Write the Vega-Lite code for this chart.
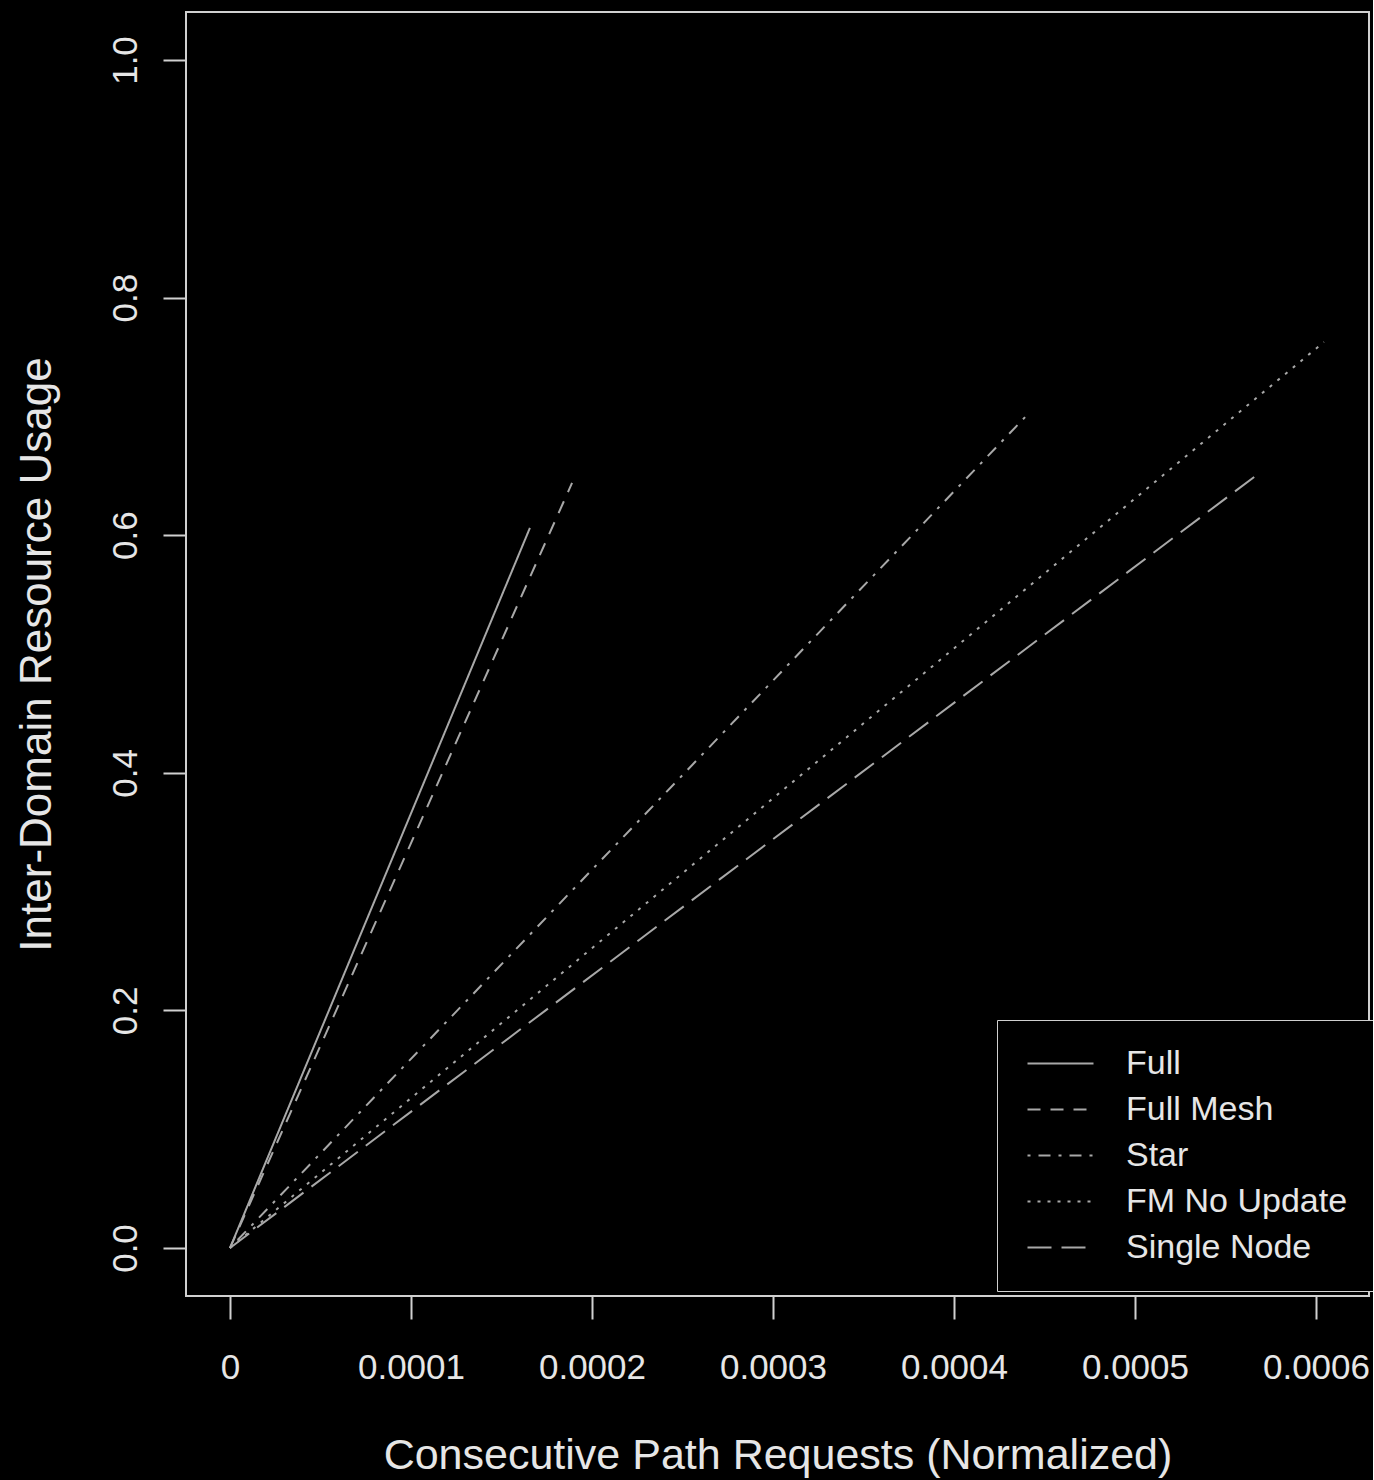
{
  "$schema": "https://vega.github.io/schema/vega-lite/v6.json",
  "width": 1183,
  "height": 1284,
  "autosize": {"type": "none"},
  "padding": {"left": 186, "top": 12, "right": 4, "bottom": 184},
  "background": "black",
  "config": {
    "view": {"stroke": "#d0d0d0", "strokeWidth": 2, "fill": "black"},
    "font": "Liberation Sans",
    "axis": {
      "grid": false,
      "domain": false,
      "tickColor": "#d0d0d0",
      "tickWidth": 2,
      "tickSize": 23,
      "labelColor": "#e6e6e6",
      "labelFont": "Liberation Sans",
      "labelFontSize": 35,
      "labelFontWeight": "normal",
      "titleColor": "#e6e6e6",
      "titleFont": "Liberation Sans",
      "titleFontWeight": "normal"
    }
  },
  "data": {
    "values": [
      {"series": "Full", "x": 0, "y": 0},
      {"series": "Full", "x": 0.0001657, "y": 0.6061},
      {"series": "Full Mesh", "x": 0, "y": 0},
      {"series": "Full Mesh", "x": 0.000189, "y": 0.644},
      {"series": "Star", "x": 0, "y": 0},
      {"series": "Star", "x": 0.000442, "y": 0.7037},
      {"series": "FM No Update", "x": 0, "y": 0},
      {"series": "FM No Update", "x": 0.0006044, "y": 0.7626},
      {"series": "Single Node", "x": 0, "y": 0},
      {"series": "Single Node", "x": 0.000568, "y": 0.6515}
    ]
  },
  "mark": {"type": "line", "color": "#a8a8a8", "strokeWidth": 2},
  "encoding": {
    "x": {
      "field": "x",
      "type": "quantitative",
      "scale": {"domain": [-0.0000243, 0.0006293], "nice": false, "zero": false},
      "axis": {
        "values": [0, 0.0001, 0.0002, 0.0003, 0.0004, 0.0005, 0.0006],
        "labelExpr": "datum.value == 0 ? '0' : format(datum.value, '.4f')",
        "labelPadding": 31,
        "labelFlush": false,
        "labelOverlap": false,
        "title": "Consecutive Path Requests (Normalized)",
        "titleFontSize": 43,
        "titleBaseline": "alphabetic",
        "titleY": 172
      }
    },
    "y": {
      "field": "y",
      "type": "quantitative",
      "scale": {"domain": [-0.0404, 1.0404], "nice": false, "zero": false},
      "axis": {
        "values": [0, 0.2, 0.4, 0.6, 0.8, 1.0],
        "format": ".1f",
        "labelAngle": 270,
        "labelAlign": "center",
        "labelBaseline": "alphabetic",
        "labelPadding": 27,
        "labelFlush": false,
        "labelOverlap": false,
        "title": "Inter-Domain Resource Usage",
        "titleFontSize": 44,
        "titleAngle": 270,
        "titleBaseline": "alphabetic",
        "titleX": -136
      }
    },
    "strokeDash": {
      "field": "series",
      "type": "nominal",
      "scale": {
        "domain": ["Full", "Full Mesh", "Star", "FM No Update", "Single Node"],
        "range": [[1, 0], [13, 10], [3, 8, 12, 8], [3, 7], [24, 10]]
      },
      "legend": {
        "title": null,
        "orient": "none",
        "legendX": 811,
        "legendY": 1008,
        "strokeColor": "#d0d0d0",
        "fillColor": "black",
        "padding": 26,
        "symbolType": "M-2,0H2",
        "symbolSize": 1089,
        "symbolStrokeWidth": 2,
        "symbolStrokeColor": "#a8a8a8",
        "symbolFillColor": "transparent",
        "symbolOffset": 20,
        "labelOffset": 48,
        "labelFontSize": 34,
        "labelLimit": 400,
        "labelColor": "#e6e6e6",
        "labelFont": "Liberation Sans",
        "rowPadding": 11
      }
    }
  }
}
